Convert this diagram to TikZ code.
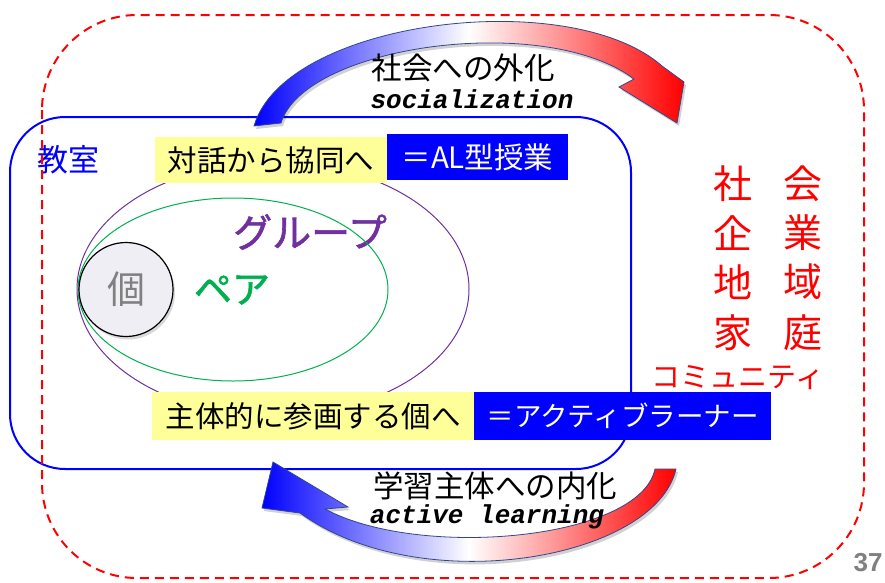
\documentclass[tikz,border=0pt]{standalone}
\usepackage{fontspec}
\newfontfamily\jp{Noto Sans CJK JP}
\newfontfamily\jpmid[FakeBold=1.6]{Noto Sans CJK JP}
\newfontfamily\cour{Liberation Mono}
\newfontfamily\numfont{Liberation Sans}
\usetikzlibrary{shadows}
\definecolor{pboxyellow}{RGB}{255,255,153}
\definecolor{grpurple}{RGB}{112,48,160}
\definecolor{prgreen}{RGB}{0,176,80}
\definecolor{arrline}{RGB}{50,70,140}
\definecolor{indgray}{RGB}{128,128,128}
\definecolor{indfill}{RGB}{238,238,244}
\definecolor{pagegray}{RGB}{128,128,128}
\newcommand{\jpsize}[1]{\jp\fontsize{#1}{#1}\selectfont}
\newcommand{\jpmidsize}[1]{\jpmid\fontsize{#1}{#1}\selectfont}
\begin{document}
\begin{tikzpicture}[x=1pt,y=-1pt,
  ybox/.style={fill=pboxyellow, inner sep=0pt, text=black, font=\jpsize{29.5}},
  bbox/.style={fill=blue, inner sep=0pt, text=white, font=\jpsize{29.5}},
  redtxt/.style={text=red, inner sep=0pt, font=\jpsize{39}},
  engtxt/.style={inner sep=0pt, font=\cour\bfseries\itshape\fontsize{26}{26}\selectfont},
  jplabel/.style={inner sep=0pt, font=\jpsize{30.5}},
  arrowshape/.style={left color=blue, right color=red, middle color=white, draw=arrline, line width=0.8pt},
  arrowshadow/.style={fill=black, opacity=0.18},
]
\useasboundingbox (0,0) rectangle (885,582);

% classroom frame
\draw[blue, line width=2pt, rounded corners=55pt] (10,117) rectangle (631,469);
\node[jplabel, text=blue, font=\jpsize{31}] (kyoshitsu) at (68,160) {教室};

% group / pair labels
\node[inner sep=0pt, text=grpurple, font=\jpmidsize{39}] (group) at (310,232) {グループ};
\node[inner sep=0pt, text=prgreen, font=\jpmidsize{38}] (pair) at (232,290) {ペア};

% ellipses
\draw[grpurple, line width=1pt] (273,289) ellipse [x radius=196, y radius=127];
\draw[prgreen, line width=1pt] (233,289.5) ellipse [x radius=155, y radius=91.5];
\node[circle, draw=black, line width=1.2pt, fill=indfill, minimum size=94pt, inner sep=0pt,
      drop shadow={shadow xshift=2pt, shadow yshift=-3pt, opacity=0.3},
      text=indgray, font=\jpsize{38}] (ko) at (126,289.5) {個};

% boxes
\node[ybox, minimum width=232pt, minimum height=46pt] (taiwa) at (271,160) {対話から協同へ};
\node[bbox, minimum width=181pt, minimum height=46pt] (al) at (477.5,157) {＝AL型授業};
\node[ybox, minimum width=322pt, minimum height=48pt] (shutai) at (313,416) {主体的に参画する個へ};
\node[bbox, minimum width=297pt, minimum height=48pt, font=\jpsize{27.5}] (learner) at (622.5,416) {＝アクティブラーナー};

% society labels
\node[redtxt] (sha) at (733,184) {社};
\node[redtxt] (kai) at (803,184) {会};
\node[redtxt] (ki)  at (733,233) {企};
\node[redtxt] (gyo) at (803,233) {業};
\node[redtxt] (chi) at (733,282) {地};
\node[redtxt] (iki) at (803,282) {域};
\node[redtxt] (ka)  at (733,333) {家};
\node[redtxt] (tei) at (803,333) {庭};
\node[redtxt, font=\jpsize{29}] (community) at (738,378) {コミュニティ};

% outer dashed frame
\draw[red, line width=2pt, dash pattern=on 9pt off 6pt, rounded corners=95pt] (42,15) rectangle (864,578);

% top curved arrow (socialization)
\path[arrowshadow, shift={(2,3)}] (254,126) .. controls (285,20) and (570,-15) .. (662,66) -- (684,82) -- (677,123) -- (619,87) -- (634,79) .. controls (545,12) and (305,45) .. (281,123) -- cycle;
\shadedraw[arrowshape] (254,126) .. controls (285,20) and (570,-15) .. (662,66) -- (684,82) -- (677,123) -- (619,87) -- (634,79) .. controls (545,12) and (305,45) .. (281,123) -- cycle;
\node[jplabel] (gaika) at (463,68) {社会への外化};
\node[engtxt] (social) at (472,99) {socialization};

% bottom curved arrow (active learning)
\path[arrowshadow, shift={(2,3)}] (676,469) .. controls (655,560) and (420,600) .. (300,513) -- (262,508) -- (273,462) -- (348,507) -- (325,509) .. controls (420,560) and (640,540) .. (655,469) -- cycle;
\shadedraw[arrowshape] (676,469) .. controls (655,560) and (420,600) .. (300,513) -- (262,508) -- (273,462) -- (348,507) -- (325,509) .. controls (420,560) and (640,540) .. (655,469) -- cycle;
\node[jplabel] (naika) at (495,486) {学習主体への内化};
\node[engtxt] (active) at (487,517) {active learning};

% page number
\node[inner sep=0pt, text=pagegray, font=\numfont\bfseries\fontsize{26}{26}\selectfont] (page) at (868,563) {37};
\end{tikzpicture}
\end{document}
